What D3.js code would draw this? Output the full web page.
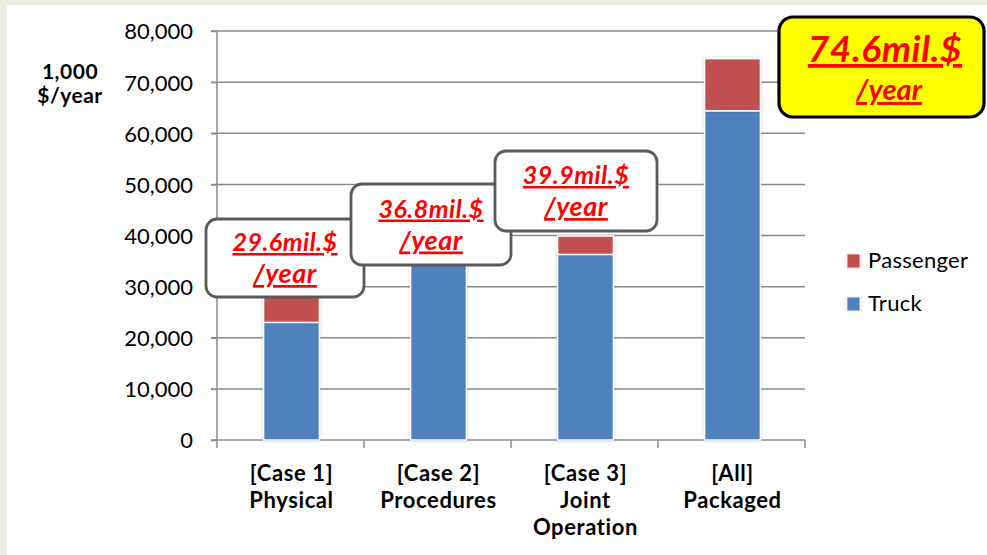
<!DOCTYPE html>
<html>
<head>
<meta charset="utf-8">
<script src="https://cdn.jsdelivr.net/npm/d3@7/dist/d3.min.js"></script>
<style>
  html, body { margin: 0; padding: 0; background: #eceedf; }
  svg { display: block; }
  text { font-family: Lato, "Open Sans", sans-serif; }
</style>
</head>
<body>
<svg id="chart" width="987" height="555"></svg>
<script>
// Annual benefit by improvement case, thousand $/year
const categories = [["[Case 1]", "Physical"], ["[Case 2]", "Procedures"], ["[Case 3]", "Joint", "Operation"], ["[All]", "Packaged"]];
const truck = [23000, 34500, 36300, 64400];
const passenger = [6600, 2300, 3600, 10200];
const totalLabels = ["29.6", "36.8", "39.9", "74.6"];
const yTicks = [0, 10000, 20000, 30000, 40000, 50000, 60000, 70000, 80000];
const seriesNames = ["Passenger", "Truck"];
const seriesColors = { Truck: "#4f81bd", Passenger: "#c0504d" };

const svg = d3.select("#chart");

// white panel on the light frame
svg.append("rect").attr("x", 7).attr("y", 5).attr("width", 980).attr("height", 550).attr("fill", "#ffffff");

const defs = svg.append("defs");
const sh = defs.append("filter").attr("id", "barShadow").attr("x", "-20%").attr("y", "-5%").attr("width", "140%").attr("height", "110%");
sh.append("feDropShadow").attr("dx", 0).attr("dy", 0).attr("stdDeviation", 1.6)
  .attr("flood-color", "#000").attr("flood-opacity", 0.28);

const x = d3.scaleBand().domain(d3.range(categories.length)).range([217, 805]).padding(0);
const y = d3.scaleLinear().domain([0, 80000]).range([440, 31]);
const barW = x.bandwidth() * 0.38;

// gridlines
svg.append("g").selectAll("line").data(yTicks.filter(d => d > 0)).join("line")
  .attr("x1", 211).attr("x2", 805)
  .attr("y1", d => y(d)).attr("y2", d => y(d))
  .attr("stroke", "#8a8a8a").attr("stroke-width", 1.5);

// y axis
const yAxis = svg.append("g").attr("transform", "translate(217,0)")
  .call(d3.axisLeft(y).tickValues(yTicks).tickSize(6).tickPadding(18).tickFormat(d3.format(",")));
yAxis.select(".domain").attr("stroke", "#8a8a8a").attr("stroke-width", 1.5).attr("d", "M0,31V440");
yAxis.selectAll(".tick line").attr("stroke", "#8a8a8a").attr("stroke-width", 1.5);
yAxis.selectAll(".tick text").attr("font-size", 22).attr("fill", "#000").attr("font-family", "Lato, sans-serif").attr("dy", "0.36em");

// x axis
const xAxis = svg.append("g").attr("transform", "translate(0,440)");
xAxis.append("line").attr("x1", 211).attr("x2", 805).attr("y1", 0).attr("y2", 0)
  .attr("stroke", "#8a8a8a").attr("stroke-width", 1.5);
xAxis.selectAll("line.tk").data(d3.range(categories.length + 1)).join("line").attr("class", "tk")
  .attr("x1", i => 217 + i * x.step()).attr("x2", i => 217 + i * x.step())
  .attr("y1", 0).attr("y2", 8).attr("stroke", "#8a8a8a").attr("stroke-width", 1.5);

// stacked bars
const stackData = categories.map((c, i) => ({ i, Truck: truck[i], Passenger: passenger[i] }));
const stack = d3.stack().keys(["Truck", "Passenger"])(stackData);
svg.append("g").selectAll("g").data(stack).join("g")
  .attr("fill", s => seriesColors[s.key])
  .selectAll("rect").data(s => s).join("rect")
  .attr("x", d => x(d.data.i) + x.bandwidth() / 2 - barW / 2 + 1)
  .attr("width", barW)
  .attr("y", d => y(d[1]))
  .attr("height", d => y(d[0]) - y(d[1]))
  .attr("stroke", "#ffffff").attr("stroke-width", 1.5)
  .attr("filter", "url(#barShadow)");

// category labels
const catG = svg.append("g").selectAll("text").data(categories).join("text")
  .attr("x", (d, i) => x(i) + x.bandwidth() / 2 + 1)
  .attr("y", 481)
  .attr("text-anchor", "middle").attr("font-size", 22).attr("letter-spacing", 0.6)
  .attr("font-weight", "bold").attr("fill", "#000");
catG.selectAll("tspan").data(d => d).join("tspan")
  .attr("x", function () { return this.parentNode.getAttribute("x"); })
  .attr("dy", (d, j) => j === 0 ? 0 : 27)
  .text(d => d);

// y axis title
svg.append("text").attr("x", 70).attr("y", 79).attr("text-anchor", "middle")
  .attr("font-size", 21).attr("letter-spacing", 0.5).attr("font-weight", "bold").attr("fill", "#000")
  .selectAll("tspan").data(["1,000", "$/year"]).join("tspan")
  .attr("x", 70).attr("dy", (d, j) => j === 0 ? 0 : 24).text(d => d);

// legend
const lg = svg.append("g");
seriesNames.forEach((name, j) => {
  const ly = 261 + j * 43;
  lg.append("rect").attr("x", 847).attr("y", ly - 7).attr("width", 13).attr("height", 14)
    .attr("fill", seriesColors[name]).attr("stroke", "#fff").attr("stroke-width", 0.8)
    .attr("filter", "url(#barShadow)");
  lg.append("text").attr("x", 868).attr("y", ly + 7).attr("font-size", 22).attr("letter-spacing", 0.3)
    .attr("fill", "#000").text(name);
});

// total callouts
const callouts = [
  { i: 0, x0: 206, y0: 219, x1: 364, y1: 297 },
  { i: 1, x0: 351, y0: 184, x1: 511, y1: 265 },
  { i: 2, x0: 495, y0: 151, x1: 657, y1: 231 }
];
callouts.forEach(c => {
  const g = svg.append("g");
  g.append("rect").attr("x", c.x0).attr("y", c.y0).attr("width", c.x1 - c.x0).attr("height", c.y1 - c.y0)
    .attr("rx", 11).attr("fill", "#fff").attr("stroke", "#5a5a5a").attr("stroke-width", 2.8);
  const cx = (c.x0 + c.x1) / 2;
  const cy = (c.y0 + c.y1) / 2;
  g.append("text").attr("x", cx).attr("y", cy - 7).attr("text-anchor", "middle")
    .attr("font-size", 25).attr("letter-spacing", 0.5).attr("font-weight", "bold").attr("font-style", "italic")
    .attr("fill", "#ff0000").attr("text-decoration", "underline")
    .text(totalLabels[c.i] + "mil.$");
  g.append("text").attr("x", cx).attr("y", cy + 25).attr("text-anchor", "middle")
    .attr("font-size", 27).attr("letter-spacing", 0.5).attr("font-weight", "bold").attr("font-style", "italic")
    .attr("fill", "#ff0000").attr("text-decoration", "underline")
    .text("/year");
});

// highlighted total for the packaged case
const big = svg.append("g");
big.append("rect").attr("x", 779).attr("y", 17).attr("width", 205).attr("height", 100)
  .attr("rx", 14).attr("fill", "#ffff00").attr("stroke", "#000").attr("stroke-width", 3.2);
big.append("text").attr("x", 885).attr("y", 62).attr("text-anchor", "middle")
  .attr("font-size", 37).attr("letter-spacing", 0.6).attr("font-weight", "bold").attr("font-style", "italic")
  .attr("fill", "#ff0000").attr("text-decoration", "underline").text(totalLabels[3] + "mil.$");
big.append("text").attr("x", 889).attr("y", 100).attr("text-anchor", "middle")
  .attr("font-size", 29).attr("font-weight", "bold").attr("font-style", "italic")
  .attr("fill", "#ff0000").attr("text-decoration", "underline").text("/year");
</script>
</body>
</html>
